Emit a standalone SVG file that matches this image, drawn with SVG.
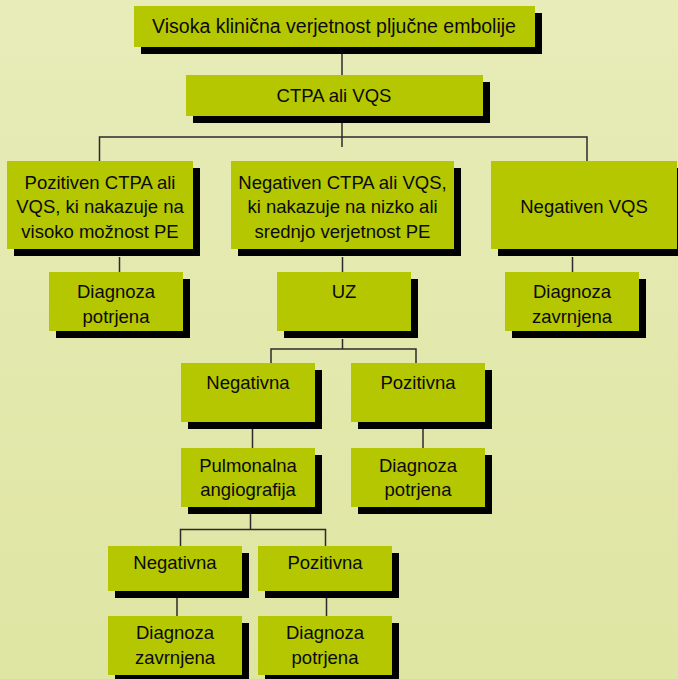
<svg xmlns="http://www.w3.org/2000/svg" width="678" height="679" viewBox="0 0 678 679">
<defs>
<linearGradient id="bg" x1="0" y1="0" x2="0" y2="1">
<stop offset="0" stop-color="#e7ecb9"/>
<stop offset="1" stop-color="#dfe5a2"/>
</linearGradient>
<style>
.sh{fill:#000}
.bx{fill:#b4c700}
.t{font-family:"Liberation Sans",Arial,sans-serif;font-size:18.5px;fill:#0a0a0a;text-anchor:middle}
.c{stroke:#2b2b2b;stroke-width:1.5;fill:none}
</style>
</defs>
<rect width="678" height="679" fill="url(#bg)"/>
<g id="connectors" class="c">
<path d="M342,54V75"/>
<path d="M342,123V147"/>
<path d="M99.5,161V137H587V161"/>
<path d="M119.5,257V272"/>
<path d="M342.5,257V272"/>
<path d="M572.5,257V272"/>
<path d="M342.5,339V349"/>
<path d="M271,363V349H416V363"/>
<path d="M252.5,429V448"/>
<path d="M423,429V448"/>
<path d="M250.5,514V529.5"/>
<path d="M180.5,546V529.5H325.5V546"/>
<path d="M177,598V616"/>
<path d="M326.5,598V616"/>
</g>
<g id="n1"><rect class="sh" x="141" y="13" width="401" height="41"/><rect class="bx" x="134" y="6" width="401" height="41"/><text class="t" x="334" y="33" style="font-size:19.5px">Visoka klinična verjetnost pljučne embolije</text></g>
<g id="n2"><rect class="sh" x="193" y="82" width="297" height="41"/><rect class="bx" x="186" y="75" width="297" height="41"/><text class="t" x="334" y="102">CTPA ali VQS</text></g>
<g id="n3"><rect class="sh" x="14" y="168" width="186" height="88"/><rect class="bx" x="7" y="161" width="186" height="88"/><text class="t" x="100" y="189">Pozitiven CTPA ali</text><text class="t" x="100" y="213">VQS, ki nakazuje na</text><text class="t" x="100" y="237.5">visoko možnost PE</text></g>
<g id="n4"><rect class="sh" x="238" y="168" width="223" height="88"/><rect class="bx" x="231" y="161" width="223" height="88"/><text class="t" x="342.5" y="189">Negativen CTPA ali VQS,</text><text class="t" x="342.5" y="213">ki nakazuje na nizko ali</text><text class="t" x="342.5" y="237.5">srednjo verjetnost PE</text></g>
<g id="n5"><rect class="sh" x="498" y="168" width="186" height="88"/><rect class="bx" x="491" y="161" width="186" height="88"/><text class="t" x="584" y="213">Negativen VQS</text></g>
<g id="n6"><rect class="sh" x="56" y="279" width="134" height="59"/><rect class="bx" x="49" y="272" width="134" height="59"/><text class="t" x="116" y="297.5">Diagnoza</text><text class="t" x="116" y="322.5">potrjena</text></g>
<g id="n7"><rect class="sh" x="284" y="279" width="134" height="59"/><rect class="bx" x="277" y="272" width="134" height="59"/><text class="t" x="344" y="298">UZ</text></g>
<g id="n8"><rect class="sh" x="512" y="279" width="134" height="59"/><rect class="bx" x="505" y="272" width="134" height="59"/><text class="t" x="572" y="297.5">Diagnoza</text><text class="t" x="572" y="322.5">zavrnjena</text></g>
<g id="n9"><rect class="sh" x="188" y="370" width="134" height="59"/><rect class="bx" x="181" y="363" width="134" height="59"/><text class="t" x="248" y="389">Negativna</text></g>
<g id="n10"><rect class="sh" x="358" y="370" width="134" height="59"/><rect class="bx" x="351" y="363" width="134" height="59"/><text class="t" x="418" y="389">Pozitivna</text></g>
<g id="n11"><rect class="sh" x="188" y="455" width="134" height="59"/><rect class="bx" x="181" y="448" width="134" height="59"/><text class="t" x="248" y="471.5">Pulmonalna</text><text class="t" x="248" y="495.5">angiografija</text></g>
<g id="n12"><rect class="sh" x="358" y="455" width="134" height="59"/><rect class="bx" x="351" y="448" width="134" height="59"/><text class="t" x="418" y="471.5">Diagnoza</text><text class="t" x="418" y="496">potrjena</text></g>
<g id="n13"><rect class="sh" x="115" y="553" width="134" height="45"/><rect class="bx" x="108" y="546" width="134" height="45"/><text class="t" x="175" y="569">Negativna</text></g>
<g id="n14"><rect class="sh" x="265" y="553" width="134" height="45"/><rect class="bx" x="258" y="546" width="134" height="45"/><text class="t" x="325" y="569">Pozitivna</text></g>
<g id="n15"><rect class="sh" x="115" y="623" width="134" height="59"/><rect class="bx" x="108" y="616" width="134" height="59"/><text class="t" x="175" y="639">Diagnoza</text><text class="t" x="175" y="664">zavrnjena</text></g>
<g id="n16"><rect class="sh" x="265" y="623" width="134" height="59"/><rect class="bx" x="258" y="616" width="134" height="59"/><text class="t" x="325" y="639">Diagnoza</text><text class="t" x="325" y="664">potrjena</text></g>
</svg>
